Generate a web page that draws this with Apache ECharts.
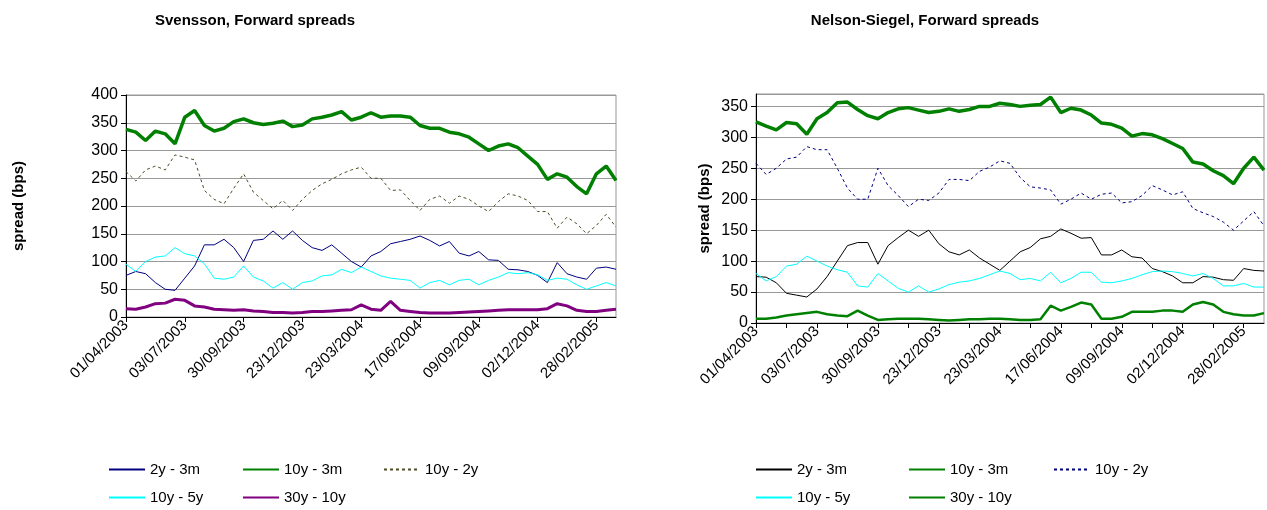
<!DOCTYPE html>
<html>
<head>
<meta charset="utf-8">
<script src="https://cdn.jsdelivr.net/npm/echarts@6/dist/echarts.min.js"></script>
<style>
  body { margin: 0; background: #fff; }
  #main { width: 1267px; height: 510px; }
</style>
</head>
<body>
<div id="main"></div>
<script>
// tick labels, one every 6 points
var tickLabels = ['01/04/2003', '03/07/2003', '30/09/2003', '23/12/2003', '23/03/2004',
    '17/06/2004', '09/09/2004', '02/12/2004', '28/02/2005'];

// Svensson (left)
var sv_2y3m = [75, 82, 78, 62, 50, 48, 70, 92, 130, 130, 140, 125, 100, 138, 140, 155, 140, 155, 138, 125, 120, 130, 115, 100,
    90, 110, 118, 132, 136, 140, 146, 138, 128, 136, 115, 110, 118, 103, 102, 86, 85, 82, 75, 62, 98, 78, 72, 68, 88, 90, 86];
var sv_10y3m = [338, 333, 318, 335, 330, 312, 360, 372, 345, 335, 340, 352, 357, 350, 347, 349, 353, 343, 346, 357, 360, 364, 370, 355,
    360, 368, 360, 362, 362, 360, 345, 340, 340, 333, 330, 324, 312, 300, 308, 312, 305, 290, 275, 248, 258, 252, 235, 222, 258, 272, 246];
var sv_10y2y = [262, 245, 265, 272, 265, 292, 288, 283, 228, 212, 204, 232, 258, 225, 210, 195, 210, 192, 212, 228, 240, 248, 258, 265,
    270, 250, 250, 228, 229, 210, 192, 212, 218, 205, 218, 212, 200, 190, 208, 222, 218, 210, 190, 190, 160, 180, 168, 150, 165, 185, 162];
var sv_10y5y = [95, 82, 100, 108, 110, 125, 114, 110, 96, 70, 68, 72, 92, 72, 65, 52, 62, 50, 62, 65, 74, 76, 86, 80,
    90, 82, 74, 70, 68, 66, 52, 62, 66, 58, 66, 68, 58, 66, 72, 80, 78, 80, 76, 66, 70, 68, 58, 50, 56, 62, 56];
var sv_30y10y = [15, 14, 18, 24, 25, 32, 30, 20, 18, 14, 13, 12, 13, 11, 10, 8, 8, 7, 8, 10, 10, 11, 12, 13,
    22, 14, 12, 28, 12, 10, 8, 7, 7, 7, 8, 9, 10, 11, 12, 13, 13, 13, 13, 15, 24, 20, 12, 10, 10, 12, 14];

// Nelson-Siegel (right)
var ns_2y3m = [75, 74, 65, 48, 45, 42, 55, 75, 100, 125, 130, 130, 95, 125, 138, 150, 140, 150, 128, 115, 110, 118, 105, 95,
    85, 100, 115, 122, 136, 140, 152, 145, 137, 138, 110, 110, 118, 107, 105, 88, 83, 76, 65, 65, 75, 74, 70, 69, 88, 85, 84];
var ns_10y3m = [325, 318, 312, 324, 322, 305, 330, 340, 356, 357, 345, 335, 330, 340, 346, 348, 344, 340, 342, 346, 342, 345, 350, 350,
    355, 353, 350, 352, 353, 365, 340, 347, 344, 336, 323, 321, 315, 302, 306, 304, 298, 290, 282, 260, 257, 246, 238, 225, 250, 268, 247];
var ns_10y2y = [258, 240, 250, 265, 268, 285, 280, 280, 250, 218, 200, 200, 250, 222, 206, 188, 200, 198, 210, 232, 232, 230, 245, 252,
    262, 258, 235, 220, 218, 215, 192, 200, 210, 200, 208, 210, 194, 196, 206, 222, 215, 207, 212, 185, 178, 172, 163, 150, 165, 180, 157];
var ns_10y5y = [80, 68, 75, 92, 95, 108, 100, 92, 86, 82, 60, 58, 80, 68, 56, 50, 60, 50, 55, 62, 66, 68, 72, 78,
    84, 80, 70, 72, 68, 82, 65, 72, 82, 82, 66, 65, 68, 72, 78, 83, 84, 83, 80, 76, 80, 72, 60, 60, 64, 58, 58];
var ns_30y10y = [7, 7, 9, 12, 14, 16, 18, 14, 12, 11, 20, 12, 5, 6, 7, 7, 7, 6, 5, 4, 5, 6, 6, 7,
    7, 6, 5, 5, 6, 28, 20, 26, 33, 30, 7, 7, 10, 18, 18, 18, 20, 20, 18, 30, 34, 30, 18, 14, 12, 12, 16];

var cats = sv_2y3m.map(function(v, i) { return String(i); });
var font = 'Arial, "Liberation Sans", sans-serif';

function xAxis(gi, tickEvery) {
    return {
        type: 'category', gridIndex: gi, data: cats, boundaryGap: false,
        axisLine: { lineStyle: { color: '#000' } },
        axisTick: { interval: function(i) { return i % tickEvery === 0; }, lineStyle: { color: '#000' } },
        axisLabel: {
            interval: function(i) { return i % 6 === 0; },
            formatter: function(v, i) { return tickLabels[i / 6] || ''; },
            rotate: 45, color: '#000', fontSize: 15, fontFamily: font, margin: 6
        },
        splitLine: { show: false }
    };
}
function yAxis(gi, max, gap) {
    return {
        type: 'value', gridIndex: gi, min: 0, max: max, interval: 50,
        name: 'spread (bps)', nameLocation: 'middle', nameGap: gap, nameRotate: 90,
        nameTextStyle: { fontWeight: 'bold', fontSize: 15, fontFamily: font, color: '#000' },
        axisLine: { show: true, lineStyle: { color: '#000' } },
        axisTick: { show: true, lineStyle: { color: '#000' } },
        axisLabel: { color: '#000', fontSize: 16, fontFamily: font, showMaxLabel: max % 50 === 0 },
        splitLine: { lineStyle: { color: '#999', width: 1.2 } }
    };
}
function line(name, gi, data, color, width, dashed) {
    return {
        name: name, type: 'line', xAxisIndex: gi, yAxisIndex: gi, data: data,
        showSymbol: false, symbol: 'none', animation: false,
        lineStyle: { color: color, width: width, type: dashed ? [3, 3] : 'solid' },
        itemStyle: { color: color }
    };
}
function legend(name, left, top) {
    return {
        data: [name], left: left, top: top, itemWidth: 36, itemGap: 4, selectedMode: false,
        itemStyle: { opacity: 0 },
        textStyle: { fontSize: 15, fontFamily: font, color: '#000' },
        formatter: function(n) { return n.substring(2); }
    };
}

var myChart = echarts.init(document.getElementById('main'));
var option = {
    backgroundColor: '#fff',
    title: [
        { text: 'Svensson, Forward spreads', left: 250, top: 8, textAlign: 'center',
          textStyle: { fontSize: 15, fontWeight: 'bold', fontFamily: font, color: '#000' } },
        { text: 'Nelson-Siegel, Forward spreads', left: 920, top: 8, textAlign: 'center',
          textStyle: { fontSize: 15, fontWeight: 'bold', fontFamily: font, color: '#000' } }
    ],
    grid: [
        { left: 126, top: 95, width: 490, height: 222, show: true, borderColor: '#999', borderWidth: 1 },
        { left: 756, top: 94, width: 508, height: 229, show: true, borderColor: '#999', borderWidth: 1 }
    ],
    xAxis: [xAxis(0, 6), xAxis(1, 3)],
    yAxis: [yAxis(0, 400, 100), yAxis(1, 370, 44)],
    legend: [
        legend('L 2y - 3m', 103, 457), legend('L 10y - 3m', 237, 457), legend('L 10y - 2y', 378, 457),
        legend('L 10y - 5y', 103, 485), legend('L 30y - 10y', 237, 485),
        legend('R 2y - 3m', 750, 457), legend('R 10y - 3m', 903, 457), legend('R 10y - 2y', 1048, 457),
        legend('R 10y - 5y', 750, 485), legend('R 30y - 10y', 903, 485)
    ],
    series: [
        line('L 2y - 3m', 0, sv_2y3m, '#000080', 1, false),
        line('L 10y - 3m', 0, sv_10y3m, '#008000', 3.5, false),
        line('L 10y - 2y', 0, sv_10y2y, '#4d4d26', 1, true),
        line('L 10y - 5y', 0, sv_10y5y, '#00ffff', 1, false),
        line('L 30y - 10y', 0, sv_30y10y, '#800080', 3, false),
        line('R 2y - 3m', 1, ns_2y3m, '#000000', 1, false),
        line('R 10y - 3m', 1, ns_10y3m, '#008000', 3.5, false),
        line('R 10y - 2y', 1, ns_10y2y, '#000080', 1, true),
        line('R 10y - 5y', 1, ns_10y5y, '#00ffff', 1, false),
        line('R 30y - 10y', 1, ns_30y10y, '#008000', 2.5, false)
    ]
};
myChart.setOption(option);
</script>
</body>
</html>
